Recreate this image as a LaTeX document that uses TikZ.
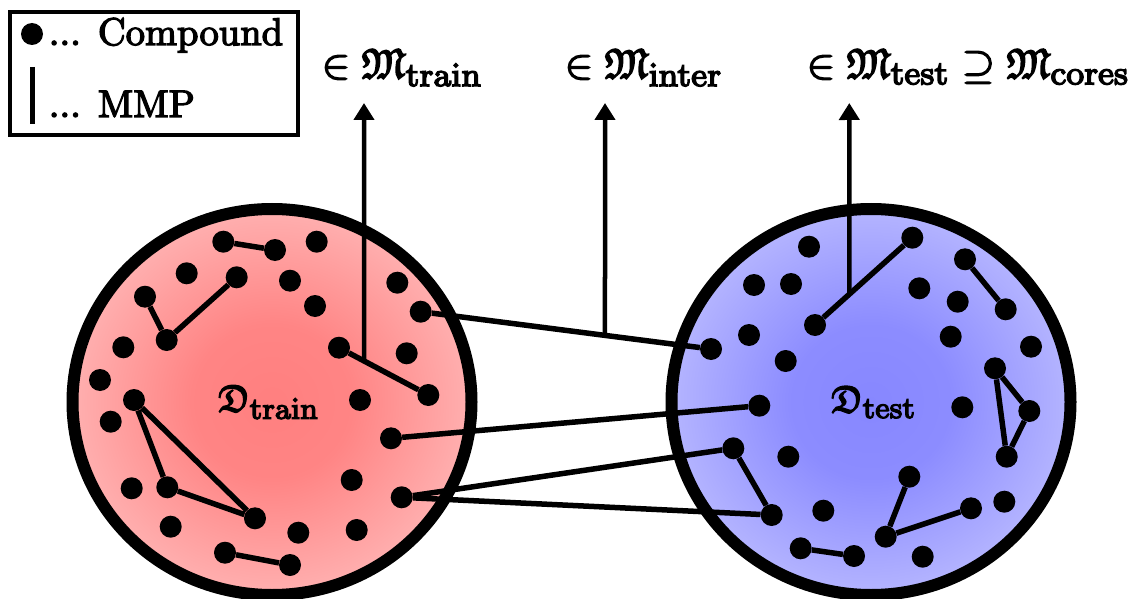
\documentclass[tikz,border=0pt]{standalone}
\usepackage{amssymb}
\usetikzlibrary{arrows.meta}
\DeclareMathSizes{10}{10}{8}{6}

% radial glows for the two data sets
\pgfdeclareradialshading{trainglow}{\pgfpoint{0bp}{0bp}}{color(0bp)=(red!50); color(10bp)=(red!48); color(50bp)=(red!3)}
\pgfdeclareradialshading{testglow}{\pgfpoint{0bp}{0bp}}{color(0bp)=(blue!47); color(10bp)=(blue!45); color(50bp)=(blue!3)}

% slightly heavier glyphs: fill and stroke the text outlines
\newcommand{\inked}[1]{\special{pdf:literal direct 2 Tr 0.35 w}#1\special{pdf:literal direct 0 Tr}}

\tikzset{
  dot/.style={circle, fill=black, minimum size=22pt, inner sep=0pt},
  edge/.style={line width=5.5pt},
  ring/.style={line width=12pt},
  link/.style={line width=5.5pt},
  pointer/.style={line width=4.5pt, -{Triangle[length=17pt,width=20pt]}},
  setlabel/.style={anchor=base west, inner sep=0pt, scale=4.2},
  dlabel/.style={inner sep=0pt, scale=3.8},
  legendtext/.style={anchor=base west, inner sep=0pt, scale=3.85},
}

\begin{document}
\begin{tikzpicture}[x=1pt,y=-1pt]
\useasboundingbox (0,0) rectangle (1138,599);

% ---------- data set circles ----------
\shade[shading=trainglow] (272,402) ellipse [x radius=199.5, y radius=193];
\draw[ring] (272,402) ellipse [x radius=199.5, y radius=193];
\shade[shading=testglow] (871,402) ellipse [x radius=199.5, y radius=193];
\draw[ring] (871,402) ellipse [x radius=199.5, y radius=193];

% ---------- compounds of the training set ----------
\foreach \n/\x/\y in {
  1/223.3/241.7, 2/275/250, 3/316.7/241.7, 4/186.7/273.3, 5/236.7/277.3,
  6/290/280.7, 7/145/296.7, 8/166.7/340, 9/315/306, 10/397.3/282.7,
  11/420.7/311.7, 12/123.3/347.3, 13/339/347.7, 14/406.7/353.3, 15/100/380,
  16/428.3/395, 17/134/400, 18/360/400, 19/110.7/421.7, 20/167.3/487.3,
  21/255/518.3, 22/391/438.3, 23/131.7/488.3, 24/351.7/480, 25/401.7/497.3,
  26/170.7/526.7, 27/298.3/532.7, 28/356.7/530, 29/225/552.7, 30/290/565}
  \node[dot] (l\n) at (\x,\y) {};

% ---------- compounds of the test set ----------
\foreach \n/\x/\y in {
  1/809/246.7, 2/912.3/237.7, 3/965/259.3, 4/754/285, 5/791/284,
  6/815/325, 7/919.3/288.3, 8/957.7/301.7, 9/1005.7/309.3, 10/749/335,
  11/711/349, 12/785.7/361, 13/950.7/336.7, 14/1031/346.7, 15/995/368.3,
  16/1029.3/411, 17/1006.7/456.7, 18/759.3/405.7, 19/962.3/407.3, 20/733.3/448.3,
  21/788.3/456.7, 22/909.3/476.7, 23/771.7/515, 24/823.3/510.7, 25/885.7/536.7,
  26/971/508.3, 27/1004.3/501.7, 28/800.7/548.3, 29/854/556, 30/922.7/556.7}
  \node[dot] (r\n) at (\x,\y) {};

% ---------- MMPs inside the training set ----------
\draw[edge] (l1) -- (l2);
\draw[edge] (l7) -- (l8) -- (l5);
\draw[edge] (l13) -- (l16);
\draw[edge] (l17) -- (l20) -- (l21) -- (l17);
\draw[edge] (l29) -- (l30);

% ---------- MMPs inside the test set ----------
\draw[edge] (r6) -- (r2);
\draw[edge] (r3) -- (r9);
\draw[edge] (r15) -- (r16) -- (r17) -- (r15);
\draw[edge] (r20) -- (r23);
\draw[edge] (r22) -- (r25) -- (r26);
\draw[edge] (r28) -- (r29);

% ---------- MMPs across both sets ----------
\draw[link] (l11) -- (r11);
\draw[link] (l22) -- (r18);
\draw[link] (l25) -- (r20);
\draw[link] (l25) -- (r23);

% ---------- pointers to the MMP sets ----------
\coordinate (trainTip) at (364,103);
\coordinate (trainBase) at (364,600);
\coordinate (interTip) at (605,103);
\coordinate (interBase) at (605,600);
\coordinate (testTip) at (849.3,103);
\coordinate (testBase) at (849.3,600);
\coordinate (trainFoot) at (intersection of trainTip--trainBase and l13--l16);
\coordinate (interFoot) at (intersection of interTip--interBase and l11--r11);
\coordinate (testFoot) at (intersection of testTip--testBase and r6--r2);
\draw[pointer] (trainFoot) -- (trainTip);
\draw[pointer] (interFoot) -- (interTip);
\draw[pointer] (testFoot) -- (testTip);

% ---------- legend ----------
\node[draw, line width=4pt, minimum width=288pt, minimum height=123pt, inner sep=0pt] (legend) at (154,73.5) {};
\node[dot] (legdot) at (32,34) {};
\coordinate (legbarTop) at (32,67);
\coordinate (legbarBot) at (32,124);
\draw[line width=5pt] (legbarTop) -- (legbarBot);

% ---------- texts ----------
\node[dlabel] (Dtrain) at (269,402) {\inked{$\mathfrak{D}_{\mathrm{train}}$}};
\node[dlabel] (Dtest) at (874,402) {\inked{$\mathfrak{D}_{\mathrm{test}}$}};
\node[setlabel] (Mtrain) at (321,78) {\inked{$\in \mathfrak{M}_{\mathrm{train}}$}};
\node[setlabel] (Minter) at (564,78) {\inked{$\in \mathfrak{M}_{\mathrm{inter}}$}};
\node[setlabel] (Mtest) at (806,78) {\inked{$\in \mathfrak{M}_{\mathrm{test}} \supseteq \mathfrak{M}_{\mathrm{cores}}$}};
\node[legendtext] (legcompound) at (48,45) {\inked{... Compound}};
\node[legendtext] (legmmp) at (48,117) {\inked{... MMP}};
\end{tikzpicture}
\end{document}
